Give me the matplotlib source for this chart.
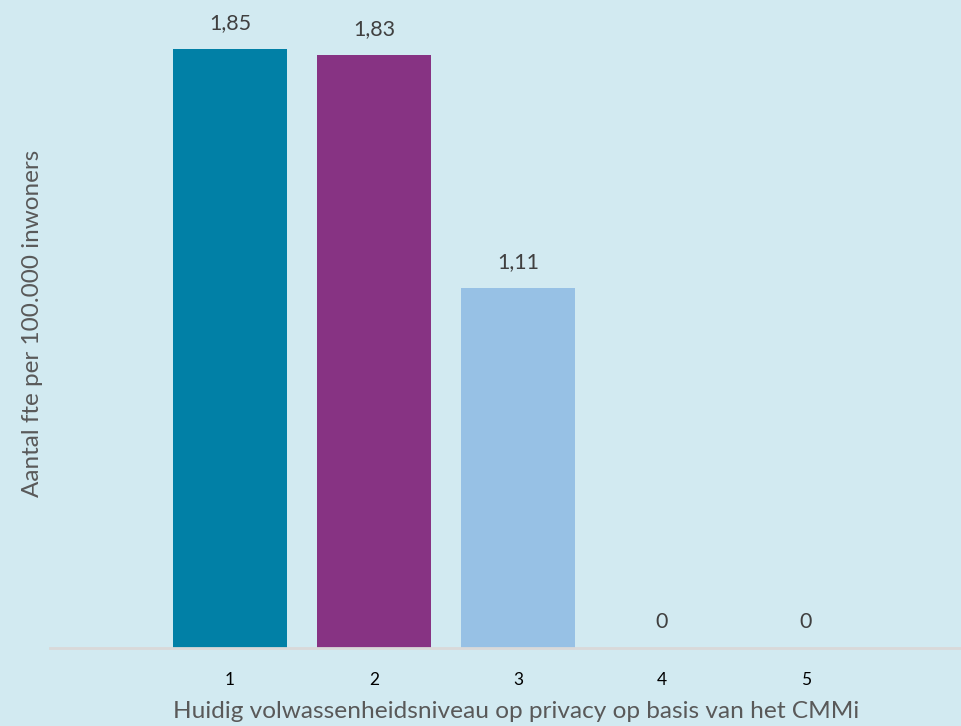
import matplotlib.pyplot as plt

plt.rcParams['font.family'] = ['Lato', 'DejaVu Sans']

niveaus = ['1', '2', '3', '4', '5']
fte = [1.85, 1.83, 1.11, 0, 0]
labels = ['1,85', '1,83', '1,11', '0', '0']
kleuren = ['#0180A6', '#873383', '#97C1E5', '#97C1E5', '#97C1E5']

achtergrond = '#D2EAF1'

fig = plt.figure(figsize=(9.61, 7.26), dpi=100, facecolor=achtergrond)
ax = fig.add_axes([50 / 961, 78 / 726, 911 / 961, 648 / 726])
ax.set_facecolor(achtergrond)

x = list(range(1, len(niveaus) + 1))
bars = ax.bar(x, fte, width=0.79, color=kleuren)

for b, lab in zip(bars, labels):
    ax.annotate(lab, (b.get_x() + b.get_width() / 2, b.get_height()),
                xytext=(0, 26), textcoords='offset pixels',
                ha='center', va='center', fontsize=15.5, color='#404040')

ax.set_xlim(-0.25, 6.076)
ax.set_ylim(0, 2.0)
ax.set_xticks(x)
ax.set_xticklabels(niveaus, fontsize=12.5, color='black')
ax.tick_params(axis='x', length=0, pad=17)
ax.set_yticks([])

for s in ['top', 'right', 'left']:
    ax.spines[s].set_visible(False)
ax.spines['bottom'].set_color('#D9D9D9')
ax.spines['bottom'].set_linewidth(2)

# x-as titel staat in het origineel tegen de onderrand
fig.text(516 / 961, 1 - 712 / 726, 'Huidig volwassenheidsniveau op privacy op basis van het CMMi',
         ha='center', va='center', fontsize=17.6, color='#595959')
fig.text(33 / 961, 1 - 323 / 726, 'Aantal fte per 100.000 inwoners',
         ha='center', va='center', rotation=90, fontsize=17.5, color='#595959')

fig.savefig('out.png', dpi=100, facecolor=achtergrond)
